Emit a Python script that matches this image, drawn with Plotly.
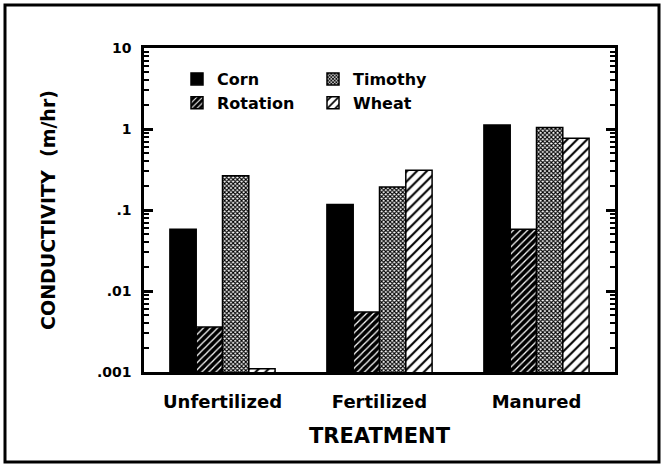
import plotly.graph_objects as go

# Saturated hydraulic conductivity (m/hr) by treatment and crop
treatments = ["Unfertilized", "Fertilized", "Manured"]
corn = [0.058, 0.117, 1.12]
rotation = [0.0036, 0.0055, 0.058]
timothy = [0.265, 0.192, 1.04]
wheat = [0.0011, 0.31, 0.77]

ytick_vals = [0.001, 0.01, 0.1, 1, 10]
ytick_text = [".001", ".01", ".1", "1", "10"]

FONT = "DejaVu Sans"
W, H = 664, 466
ML, MR, MT, MB = 144, 49, 48, 94

outline = dict(color="black", width=1.5)

# minor log ticks at 2..9 within each decade of the axis
minor_vals = [m * 10.0 ** e for e in range(-3, 1) for m in range(2, 10)]

fig = go.Figure()
fig.add_trace(go.Bar(
    name="Corn", x=treatments, y=corn, legend="legend",
    marker=dict(color="black", line=outline),
))
fig.add_trace(go.Bar(
    name="Rotation", x=treatments, y=rotation, legend="legend",
    marker=dict(color="black", line=outline,
                pattern=dict(shape="/", bgcolor="black", fgcolor="white",
                             size=5, solidity=0.25, fillmode="replace")),
))
fig.add_trace(go.Bar(
    name="Timothy", x=treatments, y=timothy, legend="legend2",
    marker=dict(color="white", line=outline,
                pattern=dict(shape="x", bgcolor="white", fgcolor="black",
                             size=3, solidity=0.6, fillmode="replace")),
))
fig.add_trace(go.Bar(
    name="Wheat", x=treatments, y=wheat, legend="legend2",
    marker=dict(color="white", line=outline,
                pattern=dict(shape="/", bgcolor="white", fgcolor="black",
                             size=7, solidity=0.3, fillmode="replace")),
))

pw = W - ML - MR
ph = H - MT - MB


def px_to_paper_x(px):
    return (px - ML) / pw


def px_to_paper_y(py):
    return (H - MB - py) / ph


legend_common = dict(
    font=dict(family=FONT, size=16, color="black", weight="bold"),
    bgcolor="rgba(0,0,0,0)", borderwidth=0,
    xanchor="left", yanchor="top", orientation="v",
    tracegroupgap=2, itemclick=False,
)

fig.update_layout(
    width=W, height=H,
    margin=dict(l=ML, r=MR, t=MT, b=MB, autoexpand=False),
    paper_bgcolor="white", plot_bgcolor="white",
    barmode="group", bargap=0.33, bargroupgap=0,
    font=dict(family=FONT, color="black", weight="bold"),
    legend=dict(x=px_to_paper_x(177), y=px_to_paper_y(62), **legend_common),
    legend2=dict(x=px_to_paper_x(313), y=px_to_paper_y(62), **legend_common),
    xaxis=dict(
        showline=True, linecolor="black", linewidth=2.5, mirror=True,
        ticks="", showgrid=False, zeroline=False,
        tickfont=dict(family=FONT, size=18, weight="bold"),
        ticklabelstandoff=12,
        title=dict(text="TREATMENT",
                   font=dict(family=FONT, size=21, weight="bold"),
                   standoff=17),
    ),
    yaxis=dict(
        type="log", range=[-3, 1],
        showline=True, linecolor="black", linewidth=2.5, mirror="ticks",
        ticks="inside", ticklen=9, tickwidth=2.5, tickcolor="black",
        tickmode="array", tickvals=ytick_vals, ticktext=ytick_text,
        tickfont=dict(family=FONT, size=14, weight="bold"),
        ticklabelstandoff=7,
        minor=dict(ticks="inside", ticklen=5, tickwidth=2,
                   tickmode="array", tickvals=minor_vals,
                   tickcolor="black", showgrid=False),
        showgrid=False, zeroline=False,
        title=dict(text="CONDUCTIVITY  (m/hr)",
                   font=dict(family=FONT, size=19, weight="bold"),
                   standoff=37),
    ),
    shapes=[dict(
        type="rect", xref="paper", yref="paper",
        x0=px_to_paper_x(5), x1=px_to_paper_x(659),
        y0=px_to_paper_y(462), y1=px_to_paper_y(5),
        line=dict(color="black", width=3), fillcolor="rgba(0,0,0,0)",
        layer="below",
    )],
)

fig.write_html("out.html")
